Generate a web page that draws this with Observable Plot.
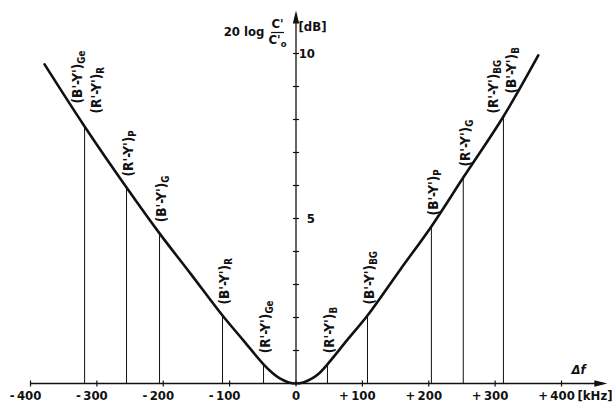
<!DOCTYPE html>
<html><head><meta charset="utf-8">
<script src="https://cdn.jsdelivr.net/npm/d3@7"></script>
<script src="https://cdn.jsdelivr.net/npm/@observablehq/plot@0.6"></script>
<style>
body{margin:0;background:#fff;}
#chart{width:612px;height:406px;}
</style></head><body><div id="chart"></div>
<script>
// Curve: 20 log C'/C'o [dB] versus Δf [kHz]
const curveF  = [-378.8, -318.5, -255.3, -205.6, -158.9, -110.7, -79, -48.9, -35, -25, -12, 0, 12, 25, 35, 47.4, 77.3, 107.7, 157, 204, 252, 312.5, 365];
const curveDb = [9.67, 7.79, 5.94, 4.55, 3.33, 2.06, 1.30, 0.58, 0.31, 0.16, 0.04, 0, 0.04, 0.16, 0.31, 0.58, 1.32, 2.06, 3.45, 4.76, 6.24, 8.09, 9.94];

// Marked colour frequencies (drop lines)
const dropF  = [-318.5, -255.3, -205.6, -110.7, -48.9, 47.4, 107.7, 204, 252, 312.5];
const dropDb = [7.79, 5.94, 4.55, 2.06, 0.58, 0.58, 2.06, 4.76, 6.24, 8.09];
const dropNames = [["B'-Y'", "R'-Y'"], ["R'-Y'"], ["B'-Y'"], ["B'-Y'"], ["R'-Y'"], ["R'-Y'"], ["B'-Y'"], ["B'-Y'"], ["R'-Y'"], ["R'-Y'", "B'-Y'"]];
const dropSubs  = [["Ge", "R"], ["P"], ["G"], ["R"], ["Ge"], ["B"], ["BG"], ["P"], ["G"], ["BG", "B"]];

// Axes
const xTicks = [-400, -300, -200, -100, 0, 100, 200, 300, 400];
const xTickLabels = ["-400", "-300", "-200", "-100", "0", "+100", "+200", "+300", "+400"];
const yTicks = [1, 2, 3, 4, 5, 6, 7, 8, 9, 10];
const yTickLabels = ["", "", "", "", "5", "", "", "", "", "10"];
const xAxisEnd = 469;   // kHz, arrow tip
const yAxisEnd = 11.3;  // dB, arrow tip

const curve = curveF.map((f, i) => ({f, db: curveDb[i]}));
const drops = dropF.map((f, i) => ({f, db: dropDb[i]}));
const labelRows = [];
dropF.forEach((f, i) => {
  dropNames[i].forEach((n, j) => {
    labelRows.push({f, db: dropDb[i], text: "(" + n + ")|" + dropSubs[i][j],
      group: dropNames[i].length === 1 ? "single" : (f < 0 ? "L" : "R") + j});
  });
});
const grp = g => labelRows.filter(d => d.group === g);
const xt = xTicks.map((x, i) => ({x, label: xTickLabels[i]}));
const yt = yTicks.map((y, i) => ({y, label: yTickLabels[i]}));
const spaced = d => d.label.replace(/^([+-])/, "$1\u2009");

const vline = {draw(ctx) { ctx.moveTo(0, -3); ctx.lineTo(0, 3); }};
const hline = {draw(ctx) { ctx.moveTo(-3, 0); ctx.lineTo(3, 0); }};
const barline = {draw(ctx) { ctx.moveTo(-6.5, 0); ctx.lineTo(6.5, 0); }};
const arrowRight = {draw(ctx) { ctx.moveTo(0, 0); ctx.lineTo(-13, -3.2); ctx.lineTo(-13, 3.2); ctx.closePath(); }};
const arrowUp = {draw(ctx) { ctx.moveTo(0, 0); ctx.lineTo(-3.2, 13); ctx.lineTo(3.2, 13); ctx.closePath(); }};

const font = "'Liberation Sans Narrow', 'DejaVu Sans Condensed', sans-serif";
const T = {fontSize: 13, fontWeight: "bold", fill: "#111"};
const L = {x: "f", y: "db", text: "text", rotate: -90, textAnchor: "start", fontSize: 13.5, fontWeight: "bold", fill: "#111"};

const plot = Plot.plot({
  width: 612, height: 406,
  marginLeft: 30, marginRight: 51, marginTop: 53, marginBottom: 23,
  x: {domain: [-400, 400], axis: null},
  y: {domain: [0, 10], axis: null},
  style: {fontFamily: font, background: "#fff", overflow: "visible"},
  marks: [
    // axes
    Plot.ruleY([0], {x1: -400, x2: xAxisEnd - 5, stroke: "#111", strokeWidth: 1.3}),
    Plot.ruleX([0], {y1: 0, y2: yAxisEnd - 0.2, stroke: "#111", strokeWidth: 1.3}),
    Plot.dot([{x: xAxisEnd, y: 0}], {x: "x", y: "y", symbol: arrowRight, fill: "#111", stroke: "none"}),
    Plot.dot([{x: 0, y: yAxisEnd}], {x: "x", y: "y", symbol: arrowUp, fill: "#111", stroke: "none"}),
    Plot.dot(xt, {x: "x", y: 0, symbol: vline, stroke: "#111", strokeWidth: 1.2, fill: "none"}),
    Plot.dot(yt, {x: 0, y: "y", symbol: hline, stroke: "#111", strokeWidth: 1.2, fill: "none"}),
    Plot.text(xt.filter(d => d.x === 0), {x: "x", y: 0, text: "label", dy: 12, ...T}),
    Plot.text(xt.filter(d => d.x !== 0), {x: "x", y: 0, text: spaced, dy: 12, dx: -5, ...T}),
    Plot.text(yt, {x: 0, y: "y", text: "label", textAnchor: "end", dx: 19, ...T}),
    // axis titles
    Plot.text([{x: 0, y: 10}], {x: "x", y: "y", text: () => "20 log", textAnchor: "end", dx: -31.5, dy: -22, ...T}),
    Plot.text([{x: 0, y: 10}], {x: "x", y: "y", text: () => "C'", dx: -18.5, dy: -30, ...T}),
    Plot.dot([{x: 0, y: 10}], {x: "x", y: "y", symbol: barline, dx: -18.5, dy: -21, stroke: "#111", strokeWidth: 1.2, fill: "none"}),
    Plot.text([{x: 0, y: 10}], {x: "x", y: "y", text: () => "C'|o", dx: -18.5, dy: -14, ...T}),
    Plot.text([{x: 0, y: 10}], {x: "x", y: "y", text: () => "[dB]", textAnchor: "start", dx: 2.5, dy: -27, ...T}),
    Plot.text([{x: 400, y: 0}], {x: "x", y: "y", text: () => "Δf", textAnchor: "start", dx: 10, dy: -14, fontStyle: "italic", ...T}),
    Plot.text([{x: 400, y: 0}], {x: "x", y: "y", text: () => "[kHz]", textAnchor: "start", dx: 16, dy: 12, ...T}),
    // drop lines
    Plot.ruleX(drops, {x: "f", y1: 0, y2: "db", stroke: "#111", strokeWidth: 1}),
    // curve
    Plot.line(curve, {x: "f", y: "db", curve: "catmull-rom", stroke: "#111", strokeWidth: 2.6}),
    // labels
    Plot.text(grp("single"), {...L, dx: 2, dy: -11}),
    Plot.text(grp("L0"), {...L, dx: -7, dy: -23}),
    Plot.text(grp("L1"), {...L, dx: 12, dy: -13}),
    Plot.text(grp("R0"), {...L, dx: -10, dy: -3}),
    Plot.text(grp("R1"), {...L, dx: 8, dy: -23})
  ]
});

plot.querySelectorAll("text").forEach(t => {
  if (t.textContent.includes("|")) {
    const [a, b] = t.textContent.split("|");
    t.textContent = a;
    const ts = document.createElementNS("http://www.w3.org/2000/svg", "tspan");
    ts.setAttribute("font-size", "0.72em");
    ts.setAttribute("dy", "0.35em");
    ts.textContent = b;
    t.appendChild(ts);
  }
});
document.getElementById("chart").appendChild(plot);
</script>
</body></html>
